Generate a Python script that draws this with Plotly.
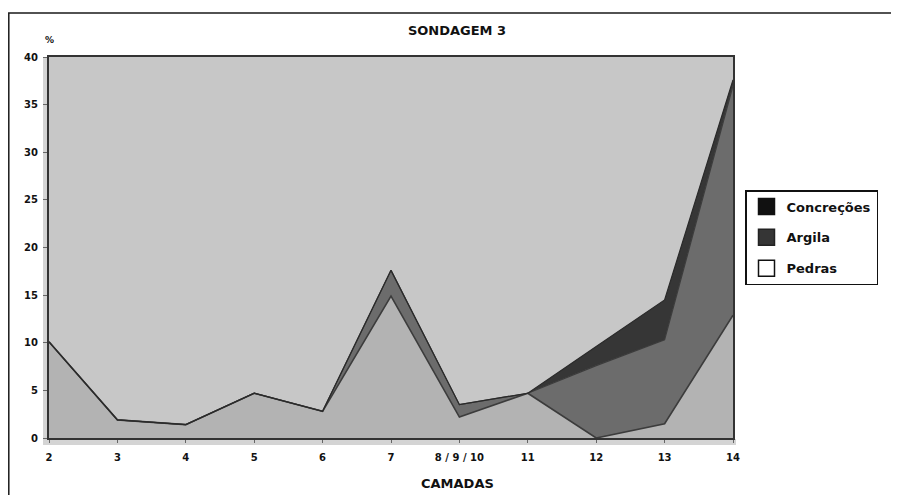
import plotly.graph_objects as go

camadas = ["2", "3", "4", "5", "6", "7", "8 / 9 / 10", "11", "12", "13", "14"]
pedras = [10.1, 1.9, 1.4, 4.7, 2.8, 14.9, 2.2, 4.7, 0.0, 1.5, 12.9]
argila = [0.0, 0.0, 0.0, 0.0, 0.0, 2.7, 1.3, 0.0, 7.6, 8.8, 24.1]
concrecoes = [0.0, 0.0, 0.0, 0.0, 0.0, 0.0, 0.0, 0.0, 2.0, 4.2, 0.6]
y_ticks = [0, 5, 10, 15, 20, 25, 30, 35, 40]

FONT = "DejaVu Sans"
OFF = 8                      # page body margin
W, H = 899 - OFF, 495 - OFF  # figure size
L, R, T, B = 49, 733, 57, 438  # plot area in page px


def px(x):
    return (x - L) / (R - L)


def py(y):
    return (B - y) / (B - T)


fig = go.Figure()

line_col = "#3c3c3c"
fig.add_trace(go.Scatter(x=camadas, y=pedras, name="Pedras", stackgroup="s",
                         mode="lines", line=dict(color=line_col, width=1.6),
                         fillcolor="#b3b3b3", showlegend=False))
fig.add_trace(go.Scatter(x=camadas, y=argila, name="Argila", stackgroup="s",
                         mode="lines", line=dict(color=line_col, width=1.2),
                         fillcolor="#6c6c6c", showlegend=False))
fig.add_trace(go.Scatter(x=camadas, y=concrecoes, name="Concreções", stackgroup="s",
                         mode="lines", line=dict(color="#2a2a2a", width=1.2),
                         fillcolor="#363636", showlegend=False))

# legend-only entries
legend_items = [("Concreções", "#111111", "#111111"),
                ("Argila", "#353535", "#222222"),
                ("Pedras", "#ffffff", "#111111")]
for i, (name, fc, lc) in enumerate(legend_items):
    fig.add_trace(go.Scatter(x=[None], y=[None], name=name, mode="markers",
                             legendgroup=f"g{i}",
                             marker=dict(symbol="square", size=16, color=fc,
                                         line=dict(color=lc, width=1.5))))

shapes = [
    # outer frame (top and left visible)
    dict(type="rect", xref="paper", yref="paper",
         x0=px(8.8), x1=px(920), y0=py(520), y1=py(13),
         line=dict(color="#1a1a1a", width=1.5), fillcolor="rgba(0,0,0,0)"),
    # light shadow strips outside axes
    dict(type="rect", xref="paper", yref="paper", layer="below",
         x0=px(43), x1=px(48), y0=py(445), y1=py(57),
         line=dict(width=0), fillcolor="#d4d4d4"),
    dict(type="rect", xref="paper", yref="paper", layer="below",
         x0=px(43), x1=px(736), y0=py(445), y1=py(439),
         line=dict(width=0), fillcolor="#d4d4d4"),
]

annotations = [
    dict(text="<b>%</b>", x=px(49), y=py(40), xref="paper", yref="paper",
         xanchor="center", yanchor="middle",
         showarrow=False, font=dict(family=FONT, size=9, color="#111")),
    dict(text="<b>CAMADAS</b>", x=px(457), y=py(483), xref="paper", yref="paper",
         xanchor="center", yanchor="middle",
         showarrow=False, font=dict(family=FONT, size=13, color="#111")),
]

fig.update_layout(
    width=W, height=H,
    margin=dict(l=L - OFF, r=W - (R - OFF), t=T - OFF, b=H - (B - OFF)),
    paper_bgcolor="white", plot_bgcolor="#c7c7c7",
    title=dict(text="<b>SONDAGEM 3</b>", x=(457 - OFF) / W, xanchor="center",
               y=1 - (30 - OFF) / H, yanchor="middle",
               font=dict(family=FONT, size=13, color="#111")),
    showlegend=True,
    legend=dict(x=px(745), y=py(190), xanchor="left", yanchor="top",
                bgcolor="white", bordercolor="#111", borderwidth=1.5,
                font=dict(family=FONT, size=13, color="#111", weight="bold"),
                traceorder="grouped", tracegroupgap=11, itemsizing="trace"),
    shapes=shapes,
    annotations=annotations,
    font=dict(family=FONT, color="#111"),
)

fig.update_xaxes(type="category", range=[0, 10], showgrid=False, zeroline=False,
                 showline=True, linecolor="#333", linewidth=2, mirror=True,
                 ticks="outside", ticklen=3, tickcolor="#666", ticklabelstandoff=6,
                 tickfont=dict(family=FONT, size=10, color="#111", weight="bold"))
fig.update_yaxes(range=[0, 40], tickvals=y_ticks, showgrid=False, zeroline=False,
                 showline=True, linecolor="#333", linewidth=2, mirror=True,
                 ticks="outside", ticklen=4, tickcolor="#666", ticklabelstandoff=3,
                 tickfont=dict(family=FONT, size=10, color="#111", weight="bold"))

fig.write_html("out.html")
